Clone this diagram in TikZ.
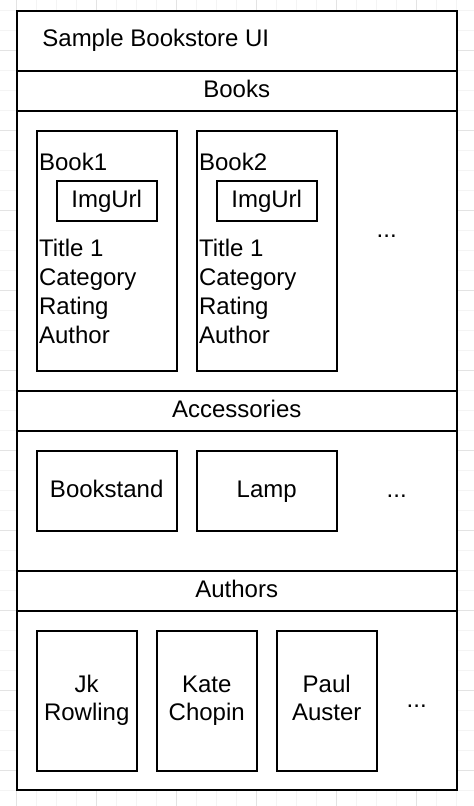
\documentclass[tikz,border=0pt]{standalone}
\usepackage{fontspec}
\setmainfont{Liberation Sans}
\usetikzlibrary{positioning}

\begin{document}
\begin{tikzpicture}[x=0.5pt,y=-0.5pt,
		font=\fontsize{12}{14.4}\selectfont,
		band/.style={draw,fill=white,line width=1pt,minimum width=220pt,inner sep=0pt,outer sep=0pt,text height=8.6pt,text depth=1.9pt},
		card/.style={draw,fill=white,line width=1pt,anchor=north west,inner sep=0pt,outer sep=0pt,align=center},
		mid/.style={text height=8.6pt,text depth=1.9pt},
		txt/.style={inner sep=0pt,anchor=base west}]
		\useasboundingbox (0,0) rectangle (474,806);
		% grid
		\foreach \i in {0,...,22} \draw[gray!9,line width=0.5pt] (16.7+20*\i,0) -- +(0,806);
		\foreach \i in {0,...,39} \draw[gray!9,line width=0.5pt] (0,10.7+20*\i) -- +(474,0);
		\foreach \i in {0,...,5} \draw[gray!22,line width=0.5pt] (16.7+80*\i,0) -- +(0,806);
		\foreach \i in {0,...,9} \draw[gray!22,line width=0.5pt] (0,50.7+80*\i) -- +(474,0);
		% frame
		\node[band,anchor=north west,minimum height=30pt] (head) at (16.7,10.7) {};
		\node[band,below=0pt of head,minimum height=20pt] (books) {Books};
		\node[band,below=0pt of books,minimum height=140pt] (booksbody) {};
		\node[band,below=0pt of booksbody,minimum height=20pt] (acc) {Accessories};
		\node[band,below=0pt of acc,minimum height=70pt] (accbody) {};
		\node[band,below=0pt of accbody,minimum height=20pt] (authors) {Authors};
		\node[band,below=0pt of authors,minimum height=89.65pt] (authbody) {};
		\node[txt] (title) at (42,46.7) {Sample Bookstore UI};
		% books
		\foreach \n/\x in {1/0,2/160} {
			\node[card,minimum width=70pt,minimum height=120pt] (book\n) at (36.7+\x,130.7) {};
			\node[txt] (bookname\n) at (38.7+\x,170.7) {Book\n};
			\node[card,mid,minimum width=50pt,minimum height=20pt] (img\n) at (56.7+\x,180.7) {ImgUrl};
			\foreach \f [count=\j] in {Title 1,Category,Rating,Author}
				\node[txt] (field\n\j) at (38.7+\x,228+28.8*\j) {\f};
		}
		\node[mid] (bookmore) at (386.7,230.7) {...};
		% accessories
		\node[card,mid,minimum width=70pt,minimum height=40pt] (bookstand) at (36.7,450.7) {Bookstand};
		\node[card,mid,minimum width=70pt,minimum height=40pt] (lamp) at (196.7,450.7) {Lamp};
		\node[mid] (accmore) at (396.7,490.7) {...};
		% authors
		\foreach \first/\last [count=\i] in {Jk/Rowling,Kate/Chopin,Paul/Auster}
			\node[card,minimum width=50pt,minimum height=70pt] (author\i) at (36.7+120*\i-120,630.7) {\strut\first\\\strut\last};
		\node[mid] (authmore) at (416.7,700.7) {...};
	\end{tikzpicture}
\end{document}
